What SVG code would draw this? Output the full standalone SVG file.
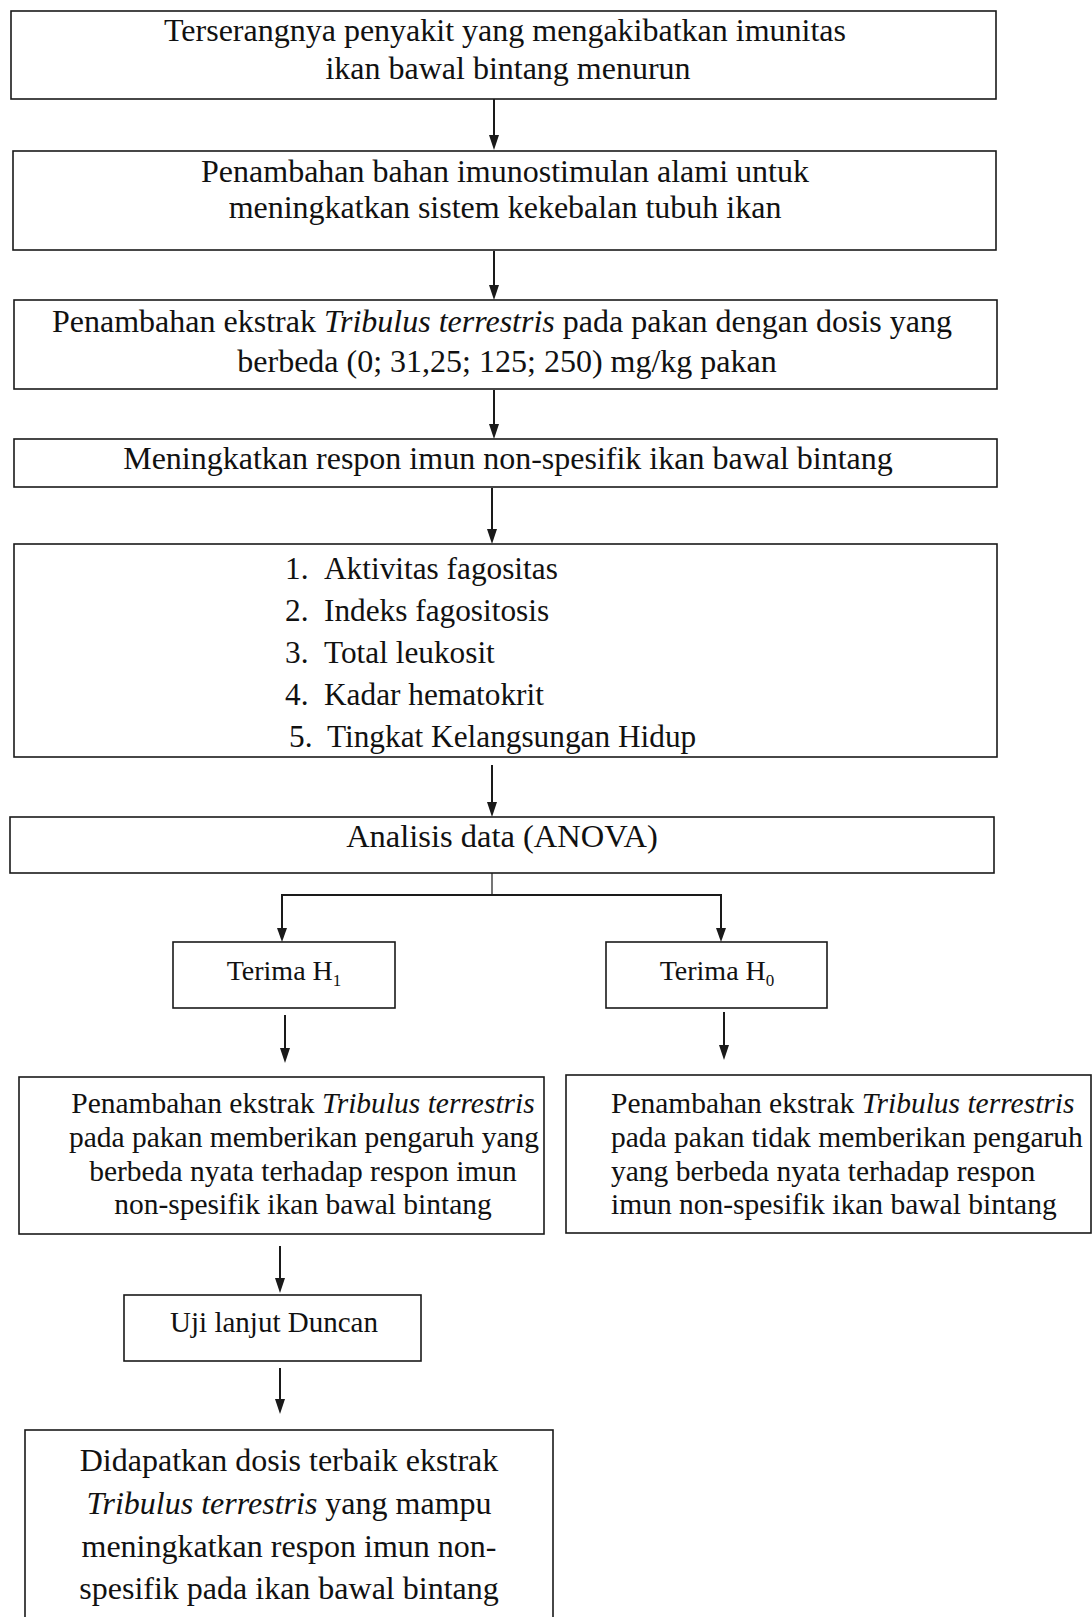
<svg xmlns="http://www.w3.org/2000/svg" width="1092" height="1617" viewBox="0 0 1092 1617">
<style>
.box{fill:#fff;stroke:#1a1a1a;stroke-width:1.6}
.t{font-family:"Liberation Serif","Times New Roman",serif;fill:#111;font-size:32px}
.s{font-size:29.5px}
.l{font-size:31.3px}
.c{text-anchor:middle}
.i{font-style:italic}
.ln{stroke:#1a1a1a;stroke-width:2;fill:none}
.thin{stroke:#1a1a1a;stroke-width:1.2;fill:none}
.ah{fill:#1a1a1a}
</style>
<rect width="1092" height="1617" fill="#fff"/>
<g id="n1"><rect class="box" x="11" y="11" width="985" height="88"/>
<text class="t c" x="505" y="41">Terserangnya penyakit yang mengakibatkan imunitas</text>
<text class="t c" x="508" y="79">ikan bawal bintang menurun</text></g>
<g id="n2"><rect class="box" x="13" y="151" width="983" height="99"/>
<text class="t c" x="505" y="182">Penambahan bahan imunostimulan alami untuk</text>
<text class="t c" x="505" y="218">meningkatkan sistem kekebalan tubuh ikan</text></g>
<g id="n3"><rect class="box" x="14" y="300" width="983" height="89"/>
<text class="t c" x="502" y="332">Penambahan ekstrak <tspan class="i">Tribulus terrestris</tspan> pada pakan dengan dosis yang</text>
<text class="t c" x="507" y="372">berbeda (0; 31,25; 125; 250) mg/kg pakan</text></g>
<g id="n4"><rect class="box" x="14" y="439" width="983" height="48"/>
<text class="t c" x="508" y="469">Meningkatkan respon imun non-spesifik ikan bawal bintang</text></g>
<g id="n5"><rect class="box" x="14" y="544" width="983" height="213"/>
<text class="t l" x="285" y="579">1.</text><text class="t l" x="324" y="579">Aktivitas fagositas</text>
<text class="t l" x="285" y="621">2.</text><text class="t l" x="324" y="621">Indeks fagositosis</text>
<text class="t l" x="285" y="663">3.</text><text class="t l" x="324" y="663">Total leukosit</text>
<text class="t l" x="285" y="705">4.</text><text class="t l" x="324" y="705">Kadar hematokrit</text>
<text class="t l" x="289" y="747">5.</text><text class="t l" x="327" y="747">Tingkat Kelangsungan Hidup</text></g>
<g id="n6"><rect class="box" x="10" y="817" width="984" height="56"/>
<text class="t c" x="502" y="847" style="font-size:32.5px">Analisis data (ANOVA)</text></g>
<g id="n7"><rect class="box" x="173" y="942" width="222" height="66"/>
<text class="t c" x="284" y="980" style="font-size:28px">Terima H<tspan font-size="17" dy="6">1</tspan></text></g>
<g id="n8"><rect class="box" x="606" y="942" width="221" height="66"/>
<text class="t c" x="717" y="980" style="font-size:28px">Terima H<tspan font-size="17" dy="6">0</tspan></text></g>
<g id="n9"><rect class="box" x="19" y="1077" width="525" height="157"/>
<text class="t s c" x="303" y="1113">Penambahan ekstrak <tspan class="i">Tribulus terrestris</tspan></text>
<text class="t s c" x="304" y="1147">pada pakan memberikan pengaruh yang</text>
<text class="t s c" x="303" y="1181">berbeda nyata terhadap respon imun</text>
<text class="t s c" x="303" y="1214">non-spesifik ikan bawal bintang</text></g>
<g id="n10"><rect class="box" x="566" y="1075" width="525" height="158"/>
<text class="t s" x="611" y="1113">Penambahan ekstrak <tspan class="i">Tribulus terrestris</tspan></text>
<text class="t s" x="611" y="1147">pada pakan tidak memberikan pengaruh</text>
<text class="t s" x="611" y="1181">yang berbeda nyata terhadap respon</text>
<text class="t s" x="611" y="1214">imun non-spesifik ikan bawal bintang</text></g>
<g id="n11"><rect class="box" x="124" y="1295" width="297" height="66"/>
<text class="t c" x="274" y="1332" style="font-size:29px">Uji lanjut Duncan</text></g>
<g id="n12"><rect class="box" x="25" y="1430" width="528" height="200"/>
<text class="t c" x="289" y="1471">Didapatkan dosis terbaik ekstrak</text>
<text class="t c" x="289" y="1514"><tspan class="i">Tribulus terrestris</tspan> yang mampu</text>
<text class="t c" x="289" y="1557">meningkatkan respon imun non-</text>
<text class="t c" x="289" y="1599">spesifik pada ikan bawal bintang</text></g>
<g id="edges">
<line class="ln" x1="494" y1="99" x2="494" y2="136"/><path class="ah" d="M489,135 L499,135 L494,150 Z"/>
<line class="ln" x1="494" y1="251" x2="494" y2="286"/><path class="ah" d="M489,285 L499,285 L494,300 Z"/>
<line class="ln" x1="494" y1="390" x2="494" y2="425"/><path class="ah" d="M489,424 L499,424 L494,439 Z"/>
<line class="ln" x1="492" y1="488" x2="492" y2="530"/><path class="ah" d="M487,529 L497,529 L492,544 Z"/>
<line class="ln" x1="492" y1="765" x2="492" y2="803"/><path class="ah" d="M487,802 L497,802 L492,817 Z"/>
<line class="thin" x1="492" y1="873" x2="492" y2="895"/>
<polyline class="ln" points="282,929 282,895 721,895 721,929"/>
<path class="ah" d="M277,928 L287,928 L282,942 Z"/>
<path class="ah" d="M716,928 L726,928 L721,942 Z"/>
<line class="ln" x1="285" y1="1015" x2="285" y2="1049"/><path class="ah" d="M280,1048 L290,1048 L285,1063 Z"/>
<line class="ln" x1="724" y1="1012" x2="724" y2="1046"/><path class="ah" d="M719,1045 L729,1045 L724,1060 Z"/>
<line class="ln" x1="280" y1="1246" x2="280" y2="1279"/><path class="ah" d="M275,1278 L285,1278 L280,1293 Z"/>
<line class="ln" x1="280" y1="1368" x2="280" y2="1400"/><path class="ah" d="M275,1399 L285,1399 L280,1414 Z"/>
</g>
</svg>
